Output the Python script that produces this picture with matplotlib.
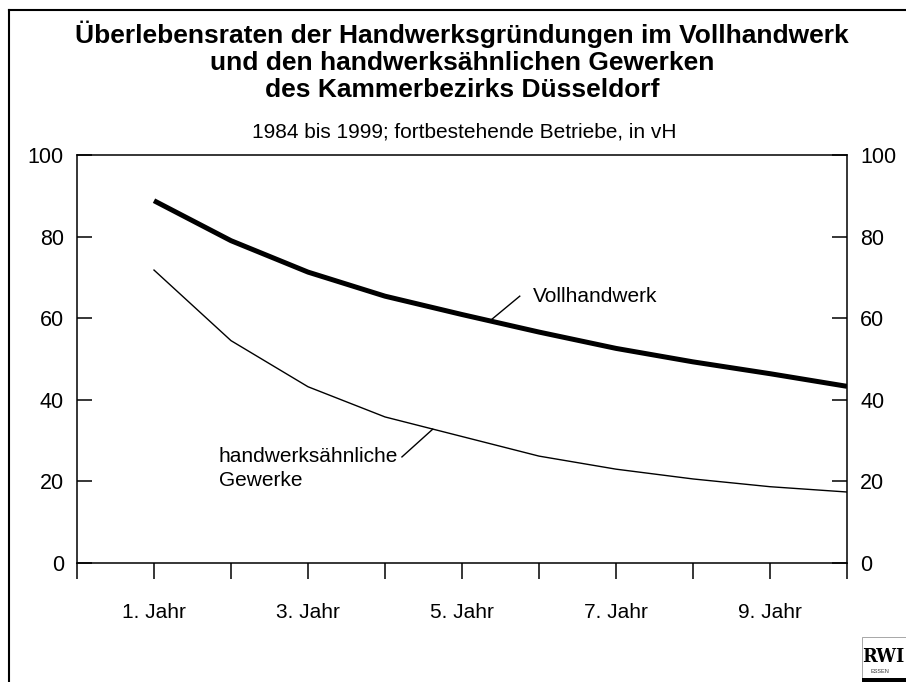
import matplotlib
matplotlib.use("Agg")
import matplotlib.pyplot as plt
from matplotlib.lines import Line2D
from matplotlib.patches import Rectangle

plt.rcParams['font.family'] = ['Liberation Sans', 'DejaVu Sans']

years = [1, 2, 3, 4, 5, 6, 7, 8, 9, 10]
vollhandwerk = [88.8, 79.0, 71.3, 65.4, 60.9, 56.6, 52.6, 49.3, 46.4, 43.3]
handwerksaehnlich = [71.8, 54.5, 43.2, 35.8, 31.0, 26.2, 23.0, 20.6, 18.7, 17.4]
xtick_pos = list(range(0, 11))
xtick_labels = ["", "1. Jahr", "", "3. Jahr", "", "5. Jahr", "", "7. Jahr", "", "9. Jahr", ""]
ytick_pos = [0, 20, 40, 60, 80, 100]

W, H = 906, 682
fig = plt.figure(figsize=(W / 100, H / 100), dpi=100)
ax = fig.add_axes([77 / W, 1 - 563 / H, (847 - 77) / W, (563 - 155) / H])

ax.plot(years, vollhandwerk, color='black', lw=3.6, solid_joinstyle='miter', solid_capstyle='butt')
ax.plot(years, handwerksaehnlich, color='black', lw=1.0)

ax.set_xlim(0, 10)
ax.set_ylim(0, 100)
ax.set_xticks(xtick_pos)
ax.set_xticklabels(xtick_labels, fontsize=15)
ax.set_yticks(ytick_pos)
ax.set_yticklabels([str(v) for v in ytick_pos], fontsize=15.5)

ax.tick_params(axis='x', direction='out', length=11.5, width=1.1, pad=17)
ax.tick_params(axis='y', direction='in', length=10.8, width=1.1, pad=9.5,
               left=True, right=True, labelleft=True, labelright=True)
for s in ax.spines.values():
    s.set_linewidth(1.1)

# annotations
ax.plot([5.36, 5.75], [59.3, 65.4], color='black', lw=1.0)
ax.text(5.92, 65.4, "Vollhandwerk", fontsize=15, ha='left', va='center')
ax.plot([4.22, 4.62], [26.0, 32.8], color='black', lw=1.0)
ax.text(1.844, 26.0, "handwerksähnliche", fontsize=15, ha='left', va='center')
ax.text(1.844, 20.1, "Gewerke", fontsize=15, ha='left', va='center')

# titles
cx = 462 / W
for txt, yb in [("Überlebensraten der Handwerksgründungen im Vollhandwerk", 43),
                ("und den handwerksähnlichen Gewerken", 70),
                ("des Kammerbezirks Düsseldorf", 97)]:
    fig.text(cx, 1 - yb / H, txt, fontsize=19, fontweight='bold', ha='center', va='baseline')
fig.text(464 / W, 1 - 138 / H, "1984 bis 1999; fortbestehende Betriebe, in vH",
         fontsize=15, ha='center', va='baseline')

# frame
fig.add_artist(Line2D([9 / W, 1.0], [1 - 10 / H, 1 - 10 / H], color='black', lw=1.5,
                      transform=fig.transFigure))
fig.add_artist(Line2D([9 / W, 9 / W], [1 - 10 / H, 0.0], color='black', lw=1.5,
                      transform=fig.transFigure))

# logo
fig.add_artist(Rectangle((862 / W, 1 - 680 / H), 44 / W, 43 / H, facecolor='white',
                         edgecolor='#999999', lw=0.6, transform=fig.transFigure))
fig.text(883 / W, 1 - 662 / H, "RWI", fontsize=14, fontweight='bold', family='DejaVu Serif',
         ha='center', va='baseline', stretch='condensed')
fig.text(880 / W, 1 - 673 / H, "ESSEN", fontsize=4, ha='center', va='baseline', color='#333333')
fig.add_artist(Rectangle((862 / W, 1 - 682 / H), 44 / W, 4 / H, facecolor='black',
                         edgecolor='none', transform=fig.transFigure))

fig.savefig("out.png", dpi=100)
